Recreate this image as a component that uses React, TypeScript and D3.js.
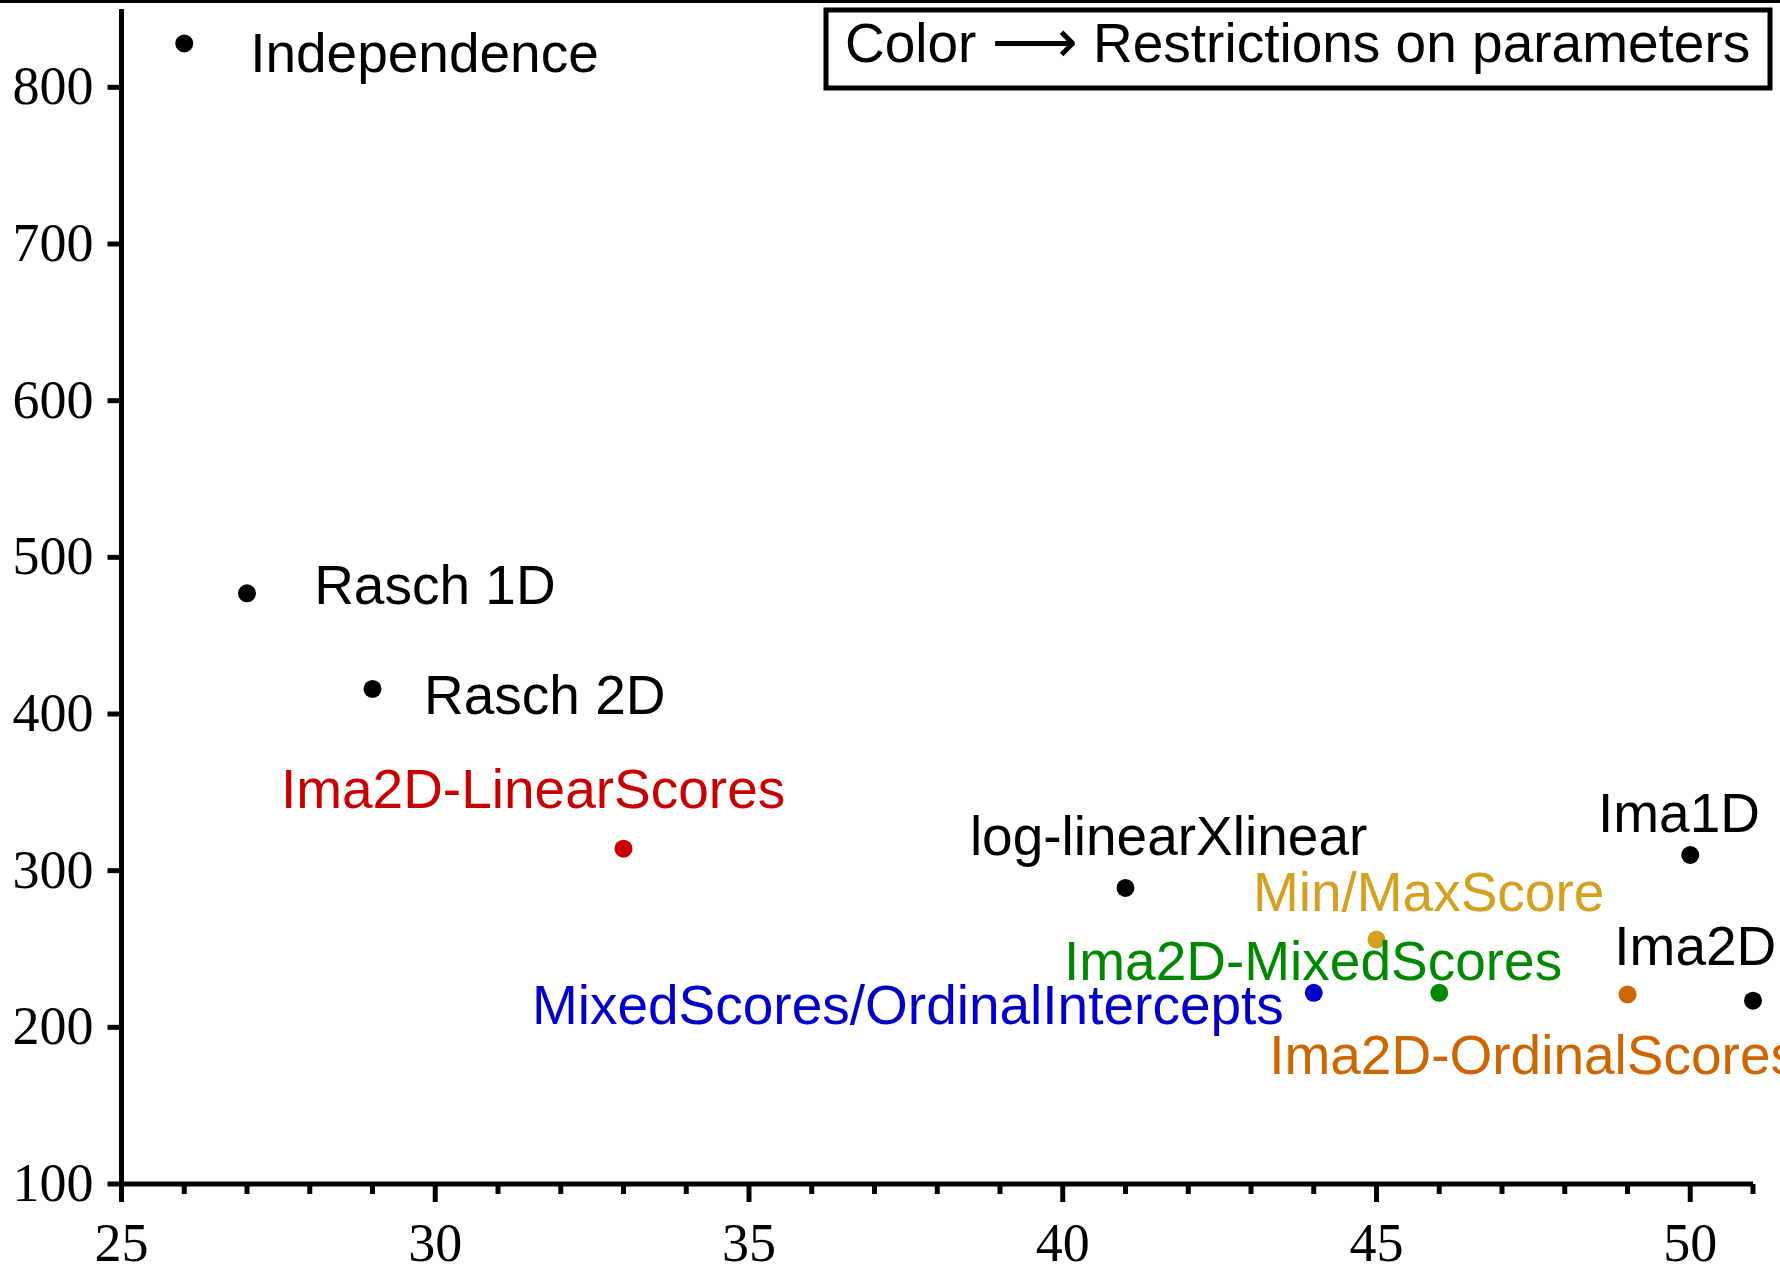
import * as d3 from "d3";

// ---- data ----
const modelNames = [
  "Independence",
  "Rasch 1D",
  "Rasch 2D",
  "Ima2D-LinearScores",
  "log-linearXlinear",
  "Ima1D",
  "Min/MaxScore",
  "MixedScores/OrdinalIntercepts",
  "Ima2D-MixedScores",
  "Ima2D-OrdinalScores",
  "Ima2D",
];
const nParams = [26, 27, 29, 33, 41, 50, 45, 44, 46, 49, 51];
const fitValues = [828, 477, 416, 314, 289, 310, 256, 222, 222, 221, 217];
const restriction = ["none", "none", "none", "linear", "none", "none", "minmax", "mixedOrd", "mixed", "ordinal", "none"];
// label anchors (data units: left edge, baseline)
const labelX = [27.05, 28.07, 29.82, 27.54, 38.52, 48.53, 43.03, 31.54, 40.02, 43.29, 48.79];
const labelY = [810, 470, 400, 340, 310, 325, 274, 202, 230, 170.5, 240];

const xMajorTicks = [25, 30, 35, 40, 45, 50];
const xMinorTicks = [26, 27, 28, 29, 31, 32, 33, 34, 36, 37, 38, 39, 41, 42, 43, 44, 46, 47, 48, 49, 51];
const yTicks = [100, 200, 300, 400, 500, 600, 700, 800];

const colorOf: Record<string, string> = {
  none: "#000000",
  linear: "#C80000",
  minmax: "#D4A020",
  mixedOrd: "#0000C8",
  mixed: "#008800",
  ordinal: "#CD6600",
};

const W = 1780;
const H = 1270;
const margin = { top: 9, right: 27, bottom: 86, left: 121.5 };

export default function App() {
  const x = d3.scaleLinear().domain([25, 51]).range([margin.left, W - margin.right]);
  const y = d3.scaleLinear().domain([100, 850]).range([H - margin.bottom, margin.top]);

  const x0 = x(25);
  const y0 = y(100);
  const sans = "'Liberation Sans', Arial, Helvetica, sans-serif";
  const serif = "'Liberation Serif', 'Times New Roman', serif";

  return (
    <div style={{ position: "absolute", left: 0, top: 0, width: W, height: H, background: "#fff" }}>
      <svg width={W} height={H} style={{ display: "block" }}>
        <rect x={0} y={0} width={W} height={H} fill="#fff" />
        {/* top frame line */}
        <line x1={0} x2={W} y1={1.5} y2={1.5} stroke="#000" strokeWidth={3} />

        {/* axes */}
        <line x1={x0} x2={x0} y1={y(850)} y2={y0} stroke="#000" strokeWidth={5} />
        <line x1={x0} x2={x(51)} y1={y0} y2={y0} stroke="#000" strokeWidth={5} />

        {yTicks.map((t) => (
          <g key={"y" + t}>
            <line x1={x0 - 14} x2={x0} y1={y(t)} y2={y(t)} stroke="#000" strokeWidth={5} />
            <text x={x0 - 28} y={y(t) + 17} textAnchor="end" fontFamily={serif} fontSize={54}>
              {t}
            </text>
          </g>
        ))}

        {xMinorTicks.map((t) => (
          <line key={"xm" + t} x1={x(t)} x2={x(t)} y1={y0} y2={y0 + 10} stroke="#000" strokeWidth={5} />
        ))}
        {xMajorTicks.map((t) => (
          <g key={"x" + t}>
            <line x1={x(t)} x2={x(t)} y1={y0} y2={y0 + 18} stroke="#000" strokeWidth={5} />
            <text x={x(t)} y={y0 + 77} textAnchor="middle" fontFamily={serif} fontSize={54}>
              {t}
            </text>
          </g>
        ))}

        {/* points and labels */}
        {modelNames.map((name, i) => (
          <g key={name}>
            <circle cx={x(nParams[i])} cy={y(fitValues[i])} r={9} fill={colorOf[restriction[i]]} />
            <text
              x={x(labelX[i])}
              y={y(labelY[i])}
              fontFamily={sans}
              fontSize={55}
              fill={colorOf[restriction[i]]}
            >
              {name}
            </text>
          </g>
        ))}

        {/* legend */}
        <rect x={826} y={10} width={944} height={78} fill="#fff" stroke="#000" strokeWidth={5} />
        <text x={845} y={62} fontFamily={sans} fontSize={55}>
          Color <tspan fontFamily="'DejaVu Sans', sans-serif" fontSize={60}>⟶</tspan> Restrictions on parameters
        </text>
      </svg>
    </div>
  );
}
